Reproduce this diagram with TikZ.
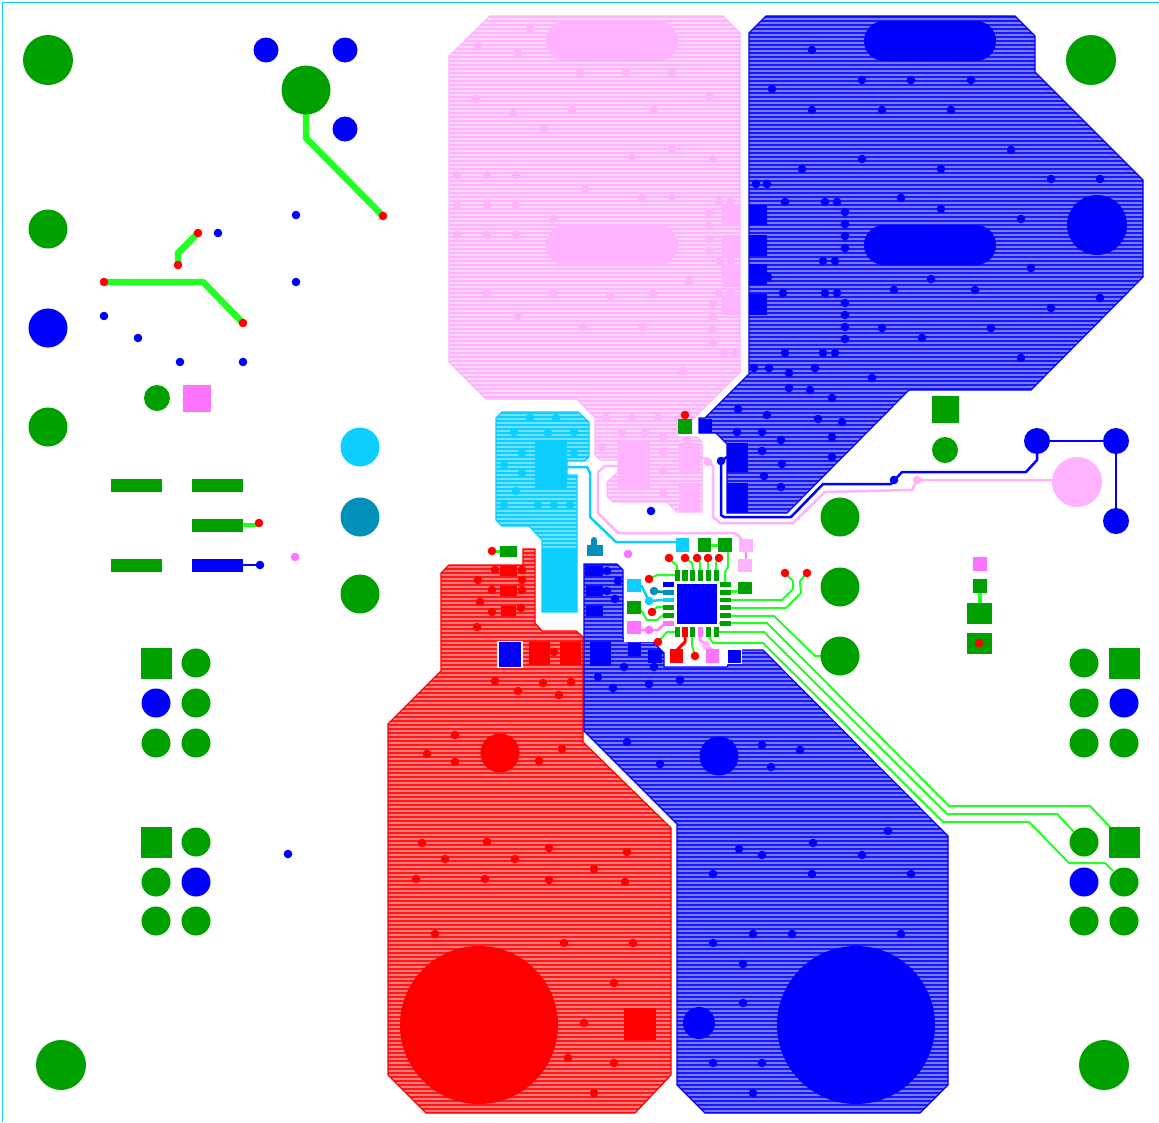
\documentclass[tikz,border=0pt]{standalone}
\definecolor{gr}{HTML}{00A000}
\definecolor{bg}{HTML}{22FF22}
\definecolor{pk}{HTML}{FFB3FF}
\definecolor{pkl}{HTML}{FFD6FF}
\definecolor{mg}{HTML}{FF73FF}
\definecolor{cy}{HTML}{0CCFFF}
\definecolor{cyl}{HTML}{70E2FF}
\definecolor{te}{HTML}{0090B8}
\definecolor{bl}{HTML}{0000FF}
\definecolor{bll}{HTML}{7A7AFF}
\definecolor{blh}{HTML}{1818FF}
\definecolor{rd}{HTML}{FF0000}
\definecolor{rdl}{HTML}{FF7A7A}
\definecolor{rdh}{HTML}{FF1818}
\newcommand{\hatchregion}[4]{%
  \begin{scope}\clip #1;
    \fill[#3] (0,0) rectangle (1159,1122);
    \foreach \yy in {0,4,...,1120} \draw[#4,line width=2pt] (0,\yy+1) -- (1159,\yy+1);
  \end{scope}
  \draw[#2,line width=1.2pt] #1;}
\newcommand{\viaset}[3]{\foreach \p in {#3} \fill[#1] \p circle (#2);}
\newcommand{\padset}[2]{\foreach \a/\b/\c/\d in {#2} \fill[#1] (\a,\b) rectangle (\c,\d);}
\tikzset{
  thin trace/.style={line width=2pt,line join=round},
  green trace/.style={thin trace,draw=bg},
  fat trace/.style={line width=6.5pt,draw=bg,line join=round},
}
\begin{document}
\begin{tikzpicture}[x=1pt,y=-1pt]
\useasboundingbox (0,0) rectangle (1159,1122);
\fill[white] (0,0) rectangle (1159,1122);
% board edge
\draw[cy,line width=1pt] (2,1122) -- (2,2.5) -- (1159,2.5);

% copper regions
\hatchregion{(490,16)--(723,16)--(740,33)--(740,372)--(693,419)--(677,419)--(677,437)--(697,437)--(702,442)--(702,512)--(677,512)--(667,502)--(613,502)--(607,496)--(607,482)--(617,473)--(618,473)--(618,460)--(600,460)--(595,455)--(595,418)--(577,399)--(486,399)--(449,362)--(449,56)--cycle}{pk}{pkl}{pk}
\hatchregion{(766,16)--(1015,16)--(1035,36)--(1035,72)--(1143,180)--(1143,277)--(1031,390)--(909,390)--(787,513)--(727,513)--(727,444)--(716,433)--(699,433)--(699,418)--(705,418)--(749,374)--(749,33)--cycle}{bl}{bll}{blh}
\hatchregion{(502,412)--(578,412)--(589,422)--(589,457)--(585,461)--(567,461)--(567,475)--(577,475)--(577,612)--(542,612)--(542,540)--(529,526)--(502,526)--(496,520)--(496,418)--cycle}{cy}{cyl}{cy}
\hatchregion{(523,549)--(535,549)--(535,623)--(542,631)--(576,631)--(583,637)--(583,742)--(671,828)--(671,1075)--(635,1113)--(426,1113)--(388,1075)--(388,724)--(441,671)--(441,573)--(449,565)--(523,565)--cycle}{rd}{rdl}{rdh}
\hatchregion{(584,564)--(617,564)--(623,570)--(623,638)--(627,642)--(653,642)--(664,653)--(664,667)--(727,667)--(728,665)--(728,650)--(763,650)--(948,836)--(948,1085)--(920,1113)--(705,1113)--(677,1085)--(677,824)--(584,731)--cycle}{bl}{bll}{blh}

% white clearance round the central pads
\fill[white] (624,571) rectangle (664,642);
\fill[white] (497,641) rectangle (523,668);
\fill[white] (727,649) rectangle (742,664);

% large pads
\padset{pk}{722/205/740/225, 722/235/740/256, 722/265/740/287, 722/295/740/315, 618/441/650/490, 679/443/700/472, 679/483/700/512}
\fill[pk,rounded corners=19.9pt] (546,21) rectangle (678,61);
\fill[pk,rounded corners=19.9pt] (546,225) rectangle (678,265);
\fill[bl,rounded corners=19.9pt] (864,21) rectangle (996,61);
\fill[bl,rounded corners=19.9pt] (864,225) rectangle (996,265);
\padset{bl}{749/205/767/225, 749/235/767/256, 749/264/767/285, 749/294/767/315, 727/443/748/472, 727/483/748/512}
\padset{cy}{535/441/567/490, 542/548/577/612}
\padset{rd}{529/642/550/665, 560/642/581/665, 500/566/517/576, 500/586/517/596, 501/606/516/616, 624/1008/656/1040}
\padset{bl}{499/642/521/667, 585/566/603/576, 586/586/603/596, 586/606/603/616, 590/642/611/666, 628/643/641/656, 648/650/662/663, 728/650/741/663}

% large holes
\viaset{bl}{30}{(1097,225)}
\viaset{bl}{79}{(856,1025)}
\viaset{bl}{19.5}{(719,756)}
\viaset{bl}{16}{(699,1023)}
\viaset{rd}{79}{(479,1025)}
\viaset{rd}{19.5}{(500,753)}

% small vias in regions
\viaset{pk}{4.3}{(478,46),(530,29),(518,53),(580,73),(626,73),(672,73),(709,96),(476,99),(513,114),(572,110),(654,110),(544,129),(672,149),(632,158),(713,159),(457,175),(487,175),(516,175),(585,189),(642,198),(672,198),(719,202),(730,202),(709,212),(457,205),(487,205),(516,205),(553,219),(709,226),(457,235),(487,235),(516,235),(709,239),(709,251),(720,261),(731,261),(487,294),(553,294),(610,296),(653,294),(689,282),(518,316),(583,327),(643,327),(719,293),(731,292),(713,304),(713,318),(712,330),(713,343),(724,353),(735,353),(683,371),(606,418),(632,418),(658,418),(622,432),(645,432),(663,437),(687,440),(602,447),(663,452),(663,471),(663,493),(687,470)}
\viaset{bl}{4.3}{(812,50),(862,80),(911,80),(971,80),(772,89),(812,110),(882,110),(951,110),(1011,150),(862,159),(802,169),(941,169),(1051,179),(1100,179),(756,184),(767,184),(785,202),(825,202),(837,202),(845,212),(845,224),(845,236),(845,248),(901,198),(941,209),(1021,219),(823,261),(835,261),(1031,268),(768,277),(931,279),(783,293),(825,293),(837,293),(845,303),(845,315),(845,327),(845,339),(894,290),(975,290),(1051,308),(1100,298),(882,328),(922,338),(991,328),(785,353),(823,353),(835,353),(1021,358),(754,368),(769,368),(789,373),(815,368),(872,378),(789,388),(810,390),(832,398),(738,409),(767,415),(737,432),(762,432),(818,419),(842,422),(832,437),(781,440),(762,451),(782,464),(832,457),(764,476),(781,487)}
\viaset{bl}{4.3}{(607,571),(618,581),(607,591),(615,599),(624,667),(654,667),(598,677),(613,688),(649,684),(680,680),(627,742),(660,764),(762,745),(800,750),(771,767),(888,831),(739,849),(762,855),(813,843),(862,855),(713,874),(812,874),(911,874),(713,943),(753,934),(792,934),(901,934),(743,964),(743,1003),(713,1063),(762,1063),(753,1093)}
\viaset{rd}{4.3}{(495,570),(522,570),(478,580),(522,580),(492,590),(522,590),(480,602),(521,608),(492,612),(477,627),(495,681),(518,691),(543,683),(571,682),(559,695),(554,652),(455,735),(427,754),(455,762),(562,749),(539,761),(422,843),(487,842),(549,848),(627,852),(445,859),(515,859),(594,869),(416,879),(485,879),(549,880),(625,882),(435,934),(564,943),(633,943),(614,983),(584,1023),(568,1058),(614,1063),(594,1093)}
\viaset{cy}{4.3}{(530,418),(556,418),(514,432),(548,433),(574,432),(522,453),(574,453),(504,465),(522,473),(516,491),(504,505),(538,505),(554,505),(570,505)}

% long traces
\draw[pk,line width=2.5pt,line join=round] (746,545)--(738,535)--(733,533)--(618,533)--(598,513)--(598,472)--(605,466)--(618,466);
\draw[pk,line width=2.5pt,line join=round] (700,458)--(705,458)--(713,466)--(713,517)--(720,523)--(793,523)--(825,492)--(912,490)--(917,480)--(1052,480);
\draw[cy,line width=2.5pt,line join=round] (567,467)--(587,467)--(590,473)--(590,517)--(616,542)--(676,542);
\draw[bl,line width=2.5pt,line join=round] (727,457)--(721,461)--(721,515)--(724,517)--(791,517)--(823,484)--(891,484)--(902,472)--(1026,472)--(1037,460)--(1037,441);
\draw[bl,line width=2.5pt] (1037,441)--(1116,441)--(1116,521);

% IC traces
\draw[green trace] (669,558)--(677,566)--(677,570);
\draw[green trace] (685,558)--(692,563)--(693,570);
\draw[green trace] (697,558)--(700,563)--(700,570);
\draw[green trace] (708,558)--(708,570);
\draw[green trace] (719,558)--(716,563)--(716,570);
\draw[green trace] (649,579)--(657,575)--(675,575);
\draw[green trace] (728,552)--(728,567)--(725,572)--(725,582);
\draw[green trace] (652,612)--(657,607)--(663,607);
\draw[green trace] (641,610)--(647,620)--(657,620)--(663,615);
\draw[green trace] (692,637)--(692,645)--(695,656);
\draw[green trace] (785,573)--(793,581)--(793,589)--(782,600)--(731,600);
\draw[green trace] (807,573)--(800,581)--(801,593)--(786,608)--(731,608);
\draw[green trace] (731,616)--(774,616)--(815,656)--(822,656);
\draw[green trace] (719,623)--(767,623)--(949,806)--(1090,806)--(1110,827);
\draw[green trace] (719,632)--(764,632)--(947,814)--(1057,814)--(1074,832);
\draw[green trace] (709,637)--(713,643)--(763,643)--(943,822)--(1029,822)--(1069,863)--(1105,863)--(1113,871);
\draw[green trace] (675,632)--(667,632)--(658,642);
\draw[bg,line width=3pt] (711,545)--(718,545);
\draw[bg,line width=3pt] (731,592)--(738,591);
\draw[rd,line width=3pt,line join=round] (685,637)--(685,642)--(677,650);
\draw[pk!60!mg,line width=3pt,line join=round] (700,637)--(700,640)--(712,650);
\draw[cy,line width=2.5pt,line join=round] (641,585)--(649,601)--(663,600);
\draw[te,line width=2.5pt] (654,591)--(663,592);
\draw[mg!70!pk,line width=2.5pt,line join=round] (641,630)--(658,630)--(665,623);
\draw[mg!70!pk,line width=2pt] (746,552)--(746,559);

% IC
\fill[white] (674,582) rectangle (719,627);
\fill[bl] (677,584) rectangle (717,624);
\padset{gr}{675/570/680/581, 682/570/688/581, 690/570/695/581, 698/570/703/581, 706/570/711/581, 714/570/719/581, 675/627/680/637, 690/627/695/637, 706/627/711/637, 714/627/719/637, 663/605/674/610, 663/613/674/618, 720/582/731/587, 720/590/731/595, 720/598/731/602, 720/605/731/610, 720/613/731/618, 720/621/731/626}
\padset{rd}{682/627/688/637}
\padset{mg}{698/627/703/637, 663/621/674/626}
\padset{bl}{663/582/674/587}
\padset{te}{663/590/674/595}
\padset{cy}{663/598/674/602}

% small pads round the IC
\padset{cy}{676/538/689/552, 627/579/641/592}
\padset{gr}{698/538/711/552, 718/538/732/552, 738/582/752/594, 627/601/641/614, 678/419/692/434}
\padset{pk}{739/539/753/552, 738/559/752/572}
\padset{mg}{627/621/641/634, 706/649/719/663}
\padset{rd}{670/649/683/663}
\padset{bl}{699/419/712/433, 628/643/641/656}

% via dots near IC
\viaset{rd}{4.3}{(669,558),(685,558),(697,558),(708,558),(719,558),(649,579),(652,612),(658,642),(695,656),(685,415),(785,573),(807,573)}
\viaset{te}{4.3}{(654,591)}
\viaset{cy}{4.3}{(649,601)}
\viaset{mg}{4.3}{(649,630),(628,554),(295,557)}
\viaset{pk}{4.3}{(706,645),(708,462),(917,480)}
\viaset{bl}{4.3}{(651,511),(721,461),(894,480)}

% teal part
\draw[te,line width=6pt,line cap=round] (594,540)--(594,546);
\padset{te}{587/545/603/556}

% small green pad with via
\draw[bg,line width=3pt] (492,551)--(500,551);
\padset{gr}{500/546/517/557}
\viaset{rd}{4.3}{(492,551)}

% right of centre
\viaset{gr}{19.5}{(840,517),(840,587),(840,656),(360,594),(48,229),(48,427)}
\viaset{bl}{19.5}{(48,328)}
\viaset{cy}{19.5}{(360,447)}
\viaset{te}{19.5}{(360,517)}
\viaset{pk}{25}{(1077,482)}
\viaset{bl}{13}{(1037,441),(1116,441),(1116,521)}
\padset{gr}{932/396/959/423, 973/579/987/593, 967/603/992/624, 967/633/992/654}
\viaset{gr}{13}{(945,450),(157,398)}
\padset{mg}{973/557/987/571, 183/385/211/412}
\draw[bg,line width=4pt] (980,593)--(980,603);
\viaset{rd}{4.3}{(979,643)}

% corner holes
\viaset{gr}{25}{(48,60),(1091,60),(61,1065),(1104,1065)}

% top left group
\draw[fat trace] (306,90)--(306,138)--(383,216);
\draw[fat trace] (104,282)--(203,282)--(243,323);
\draw[fat trace] (178,265)--(178,253)--(198,233);
\viaset{gr}{24.5}{(306,90)}
\viaset{bl}{12.5}{(266,50),(345,50),(345,129)}
\viaset{rd}{4.3}{(383,216),(104,282),(243,323),(178,265),(198,233)}
\viaset{bl}{4.3}{(218,233),(296,215),(296,282),(104,316),(138,338),(180,362),(243,362),(288,854)}

% left bars
\padset{gr}{111/479/162/492, 192/479/243/492, 192/519/243/532, 111/559/162/572}
\padset{bl}{192/559/243/572}
\draw[bg,line width=3.5pt] (243,525)--(259,525);
\draw[bl,line width=2.5pt] (243,565)--(260,565);
\viaset{rd}{4.3}{(259,523)}
\viaset{bl}{4.3}{(260,565)}

% connector blocks
\padset{gr}{141/648/172/679, 141/827/172/858, 1109/648/1140/679, 1109/827/1140/858}
\viaset{gr}{14.5}{(196,663),(196,703),(156,743),(196,743),(196,842),(156,882),(156,921),(196,921),(1084,663),(1084,703),(1084,743),(1124,743),(1084,842),(1124,882),(1084,921),(1124,921)}
\viaset{bl}{14.5}{(156,703),(196,882),(1124,703),(1084,882)}
\end{tikzpicture}
\end{document}
